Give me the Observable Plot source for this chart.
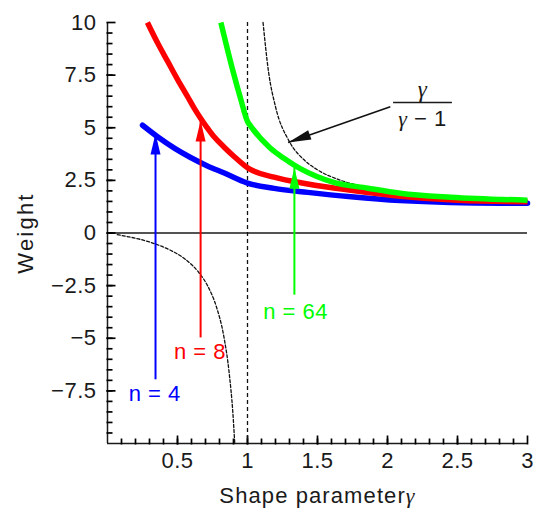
<!DOCTYPE html>
<html>
<head>
<meta charset="utf-8">
<script src="https://cdn.jsdelivr.net/npm/d3@7"></script>
<script src="https://cdn.jsdelivr.net/npm/@observablehq/plot@0.6"></script>
<style>
  html, body { margin: 0; padding: 0; background: #fff; overflow: hidden; }
  svg { display: block; }
</style>
</head>
<body>
<script>
// ---- data ----
const xTicks = [0.5, 1, 1.5, 2, 2.5, 3];
const yTicks = [-7.5, -5, -2.5, 0, 2.5, 5, 7.5, 10];

const gammaN4  = [0.25, 0.36, 0.48, 0.59, 0.71, 0.83, 1.0, 1.19, 1.43, 1.74, 2.09, 2.45, 3.0];
const weightN4 = [5.12, 4.56, 4.02, 3.6, 3.2, 2.86, 2.37, 2.12, 1.93, 1.72, 1.54, 1.45, 1.41];

const gammaN8  = [0.285, 0.36, 0.43, 0.5, 0.57, 0.62, 0.66, 0.71, 0.76, 0.83, 0.9, 1.0, 1.19, 1.43, 1.74, 2.09, 2.5, 3.0];
const weightN8 = [10, 9.0, 8.15, 7.3, 6.5, 5.92, 5.5, 5.02, 4.58, 4.1, 3.66, 3.1, 2.65, 2.33, 2.03, 1.75, 1.56, 1.49];

const gammaN64  = [0.81, 0.9, 0.95, 1.0, 1.02, 1.16, 1.26, 1.34, 1.38, 1.61, 1.86, 2.09, 2.45, 3.0];
const weightN64 = [10, 7.6, 6.4, 5.3, 5.1, 4.05, 3.55, 3.2, 3.05, 2.42, 2.13, 1.89, 1.7, 1.56];

// dashed reference curve gamma/(gamma-1), two branches
const gammaAsymLeft  = [0.07, 0.15, 0.25, 0.35, 0.45, 0.55, 0.65, 0.72, 0.78, 0.83, 0.87, 0.895, 0.909];
const weightAsymLeft = [-0.08, -0.18, -0.33, -0.54, -0.82, -1.22, -1.86, -2.57, -3.55, -4.88, -6.7, -8.5, -10];
const gammaAsymRight  = [1.111, 1.15, 1.2, 1.3, 1.4, 1.5, 1.65, 1.8, 2.0, 2.25, 2.5, 2.75, 3.0];
const weightAsymRight = [10, 7.67, 6.0, 4.33, 3.5, 3.0, 2.54, 2.25, 2.0, 1.8, 1.67, 1.57, 1.5];

// annotation arrows
const arrowLabels = ["n = 4", "n = 8", "n = 64"];
const arrowColors = ["#0000ff", "#ff0000", "#00ff00"];
const arrowGamma  = [0.343, 0.665, 1.335];
const arrowFrom   = [-6.95, -4.96, -2.93];
const arrowTo     = [4.73, 5.34, 3.1];
const labelGamma  = [0.337, 0.66, 1.343];
const labelWeight = [-7.65, -5.67, -3.73];

const fracTail = [2.02, 6.0];
const fracTip  = [1.29, 4.3];
const fracNumPos = [2.25, 6.8];
const fracBar    = [2.04, 2.46, 6.2];
const fracDenPos = [2.25, 5.43];

// ---- layout ----
const W = 535, H = 512, ML = 107, MR = 8, MT = 22, MB = 69;
const plotW = W - ML - MR, plotH = H - MT - MB;
const xDomain = [0, 3], yDomain = [-10, 10];
const pxX = (xDomain[1] - xDomain[0]) / plotW;   // data units per pixel
const pxY = (yDomain[1] - yDomain[0]) / plotH;

const zip = (xs, ys) => xs.map((x, i) => ({x, y: ys[i]}));
const asymRows = [
  ...zip(gammaAsymLeft, weightAsymLeft).map(d => ({...d, b: "L"})),
  ...zip(gammaAsymRight, weightAsymRight).map(d => ({...d, b: "R"}))
];
const arrows = arrowLabels.map((label, i) => ({
  label, color: arrowColors[i], x: arrowGamma[i], y1: arrowFrom[i], y2: arrowTo[i],
  lx: labelGamma[i], ly: labelWeight[i]
}));

// arrowhead symbol: tip at origin, pointing in screen direction angle (0 = up)
function headSymbol(angle, lenK = 2, widK = 0.5) {
  const c = Math.cos(angle), s = Math.sin(angle);
  return {
    draw(ctx, size) {
      const r = Math.sqrt(size / Math.PI);
      const L = lenK * r, w = widK * r;
      const rot = (x, y) => [x * c - y * s, x * s + y * c];
      ctx.moveTo(0, 0);
      let p = rot(-w, L); ctx.lineTo(p[0], p[1]);
      p = rot(w, L); ctx.lineTo(p[0], p[1]);
      ctx.closePath();
    }
  };
}
const sdx = (fracTip[0] - fracTail[0]) / pxX;
const sdy = -(fracTip[1] - fracTail[1]) / pxY;
const blackAngle = Math.atan2(sdx, -sdy);

const xMinor = d3.range(1, 30).map(i => i / 10);
const yMinor = d3.range(-19, 20).map(i => i / 2);
const fmt = d => d < 0 ? "\u2212" + Math.abs(d) : String(d);
const ink = "#1a1a1a";
const FS = 22;

// inward tick segments (length in pixels converted to data units)
const yTickMark = (vals, len) => Plot.link(vals.map(v => ({v})), {
  x1: () => xDomain[0] - 1 * pxX, x2: () => xDomain[0] + len * pxX, y1: "v", y2: "v",
  stroke: "#000", strokeWidth: 1.7
});
const xTickMark = (vals, len) => Plot.link(vals.map(v => ({v})), {
  y1: () => yDomain[0] - 1 * pxY, y2: () => yDomain[0] + len * pxY, x1: "v", x2: "v",
  stroke: "#000", strokeWidth: 1.7
});

const chart = Plot.plot({
  width: W, height: H,
  marginLeft: ML, marginRight: MR, marginTop: MT, marginBottom: MB,
  style: {fontFamily: "'Liberation Sans', Arial, sans-serif", fontSize: FS + "px", letterSpacing: "0.5px", background: "#fff", color: ink},
  x: {domain: xDomain},
  y: {domain: yDomain},
  marks: [
    Plot.axisY(yTicks, {tickSize: 0, tickPadding: 11, tickFormat: fmt, label: null, fontSize: FS, fill: ink}),
    Plot.axisX(xTicks, {tickSize: 0, tickPadding: 9, tickFormat: fmt, label: null, fontSize: FS, fill: ink}),
    // axis lines
    Plot.ruleX([0], {stroke: ink, strokeWidth: 1.5}),
    Plot.ruleY([-10], {stroke: ink, strokeWidth: 1.5}),
    Plot.ruleY([0], {stroke: ink, strokeWidth: 1.4}),
    yTickMark(yMinor, 5),
    yTickMark(yTicks, 8),
    xTickMark(xMinor, 5),
    xTickMark(xTicks, 8),
    // asymptote
    Plot.ruleX([1], {stroke: "#111", strokeWidth: 1.3, strokeDasharray: "4,3"}),
    Plot.line(asymRows, {x: "x", y: "y", z: "b", stroke: "#111", strokeWidth: 1.3, strokeDasharray: "3,2", curve: "monotone-x"}),
    // curves
    Plot.line(zip(gammaN4, weightN4), {x: "x", y: "y", stroke: "#0000ff", strokeWidth: 5.5, curve: "monotone-x", strokeLinecap: "round"}),
    Plot.line(zip(gammaN8, weightN8), {x: "x", y: "y", stroke: "#ff0000", strokeWidth: 5.5, curve: "monotone-x", strokeLinecap: "butt"}),
    Plot.line(zip(gammaN64, weightN64), {x: "x", y: "y", stroke: "#00ff00", strokeWidth: 5.5, curve: "monotone-x", strokeLinecap: "butt"}),
    // arrows
    Plot.link(arrows, {x1: "x", x2: "x", y1: "y1", y2: "y2", stroke: "color", strokeWidth: 2}),
    Plot.dot(arrows, {x: "x", y: "y2", fill: "color", stroke: "none", r: 10, symbol: headSymbol(0, 2.1, 0.5)}),
    Plot.text(arrows, {x: "lx", y: "ly", text: "label", fill: "color", fontSize: FS}),
    // gamma/(gamma-1) annotation
    Plot.link([0], {x1: () => fracTail[0], y1: () => fracTail[1], x2: () => fracTip[0], y2: () => fracTip[1], stroke: "#111", strokeWidth: 1.6}),
    Plot.dot([0], {x: () => fracTip[0], y: () => fracTip[1], fill: "#111", stroke: "none", r: 10, symbol: headSymbol(blackAngle, 2.3, 0.5)}),
    Plot.text(["γ"], {x: () => fracNumPos[0], y: () => fracNumPos[1], text: d => d, fontSize: 23, fill: ink}),
    Plot.link([0], {x1: () => fracBar[0], x2: () => fracBar[1], y1: () => fracBar[2], y2: () => fracBar[2], stroke: ink, strokeWidth: 1.3}),
    Plot.text(["γ \u2212 1"], {x: () => fracDenPos[0], y: () => fracDenPos[1], text: d => d, fontSize: FS, fill: ink}),
    // axis titles
    Plot.text(["Weight"], {frameAnchor: "left", dx: -82, textAnchor: "middle", lineAnchor: "middle", rotate: -90, text: d => d, fontSize: FS, fill: ink, className: "ylab"}),
    Plot.text(["Shape parameterγ"], {frameAnchor: "bottom", dy: 52, textAnchor: "middle", lineAnchor: "middle", text: d => d, fontSize: FS, fill: ink, className: "xlab"})
  ]
});

// wider spacing on the axis titles, as in the reference
chart.querySelectorAll(".ylab text").forEach(t => t.setAttribute("letter-spacing", "2.2px"));
chart.querySelectorAll(".xlab text").forEach(t => t.setAttribute("letter-spacing", "1.1px"));

// style every γ as an italic serif glyph
chart.querySelectorAll("text").forEach(t => {
  if (t.children.length === 0 && t.textContent.includes("γ")) {
    const parts = t.textContent.split("γ");
    t.textContent = "";
    parts.forEach((p, i) => {
      if (i > 0) {
        const g = document.createElementNS("http://www.w3.org/2000/svg", "tspan");
        g.setAttribute("font-family", "'Liberation Serif', 'Times New Roman', serif");
        g.setAttribute("font-style", "italic");
        g.textContent = "γ";
        t.appendChild(g);
      }
      if (p) {
        const s = document.createElementNS("http://www.w3.org/2000/svg", "tspan");
        s.textContent = p;
        t.appendChild(s);
      }
    });
  }
});

document.body.appendChild(chart);
</script>
</body>
</html>
